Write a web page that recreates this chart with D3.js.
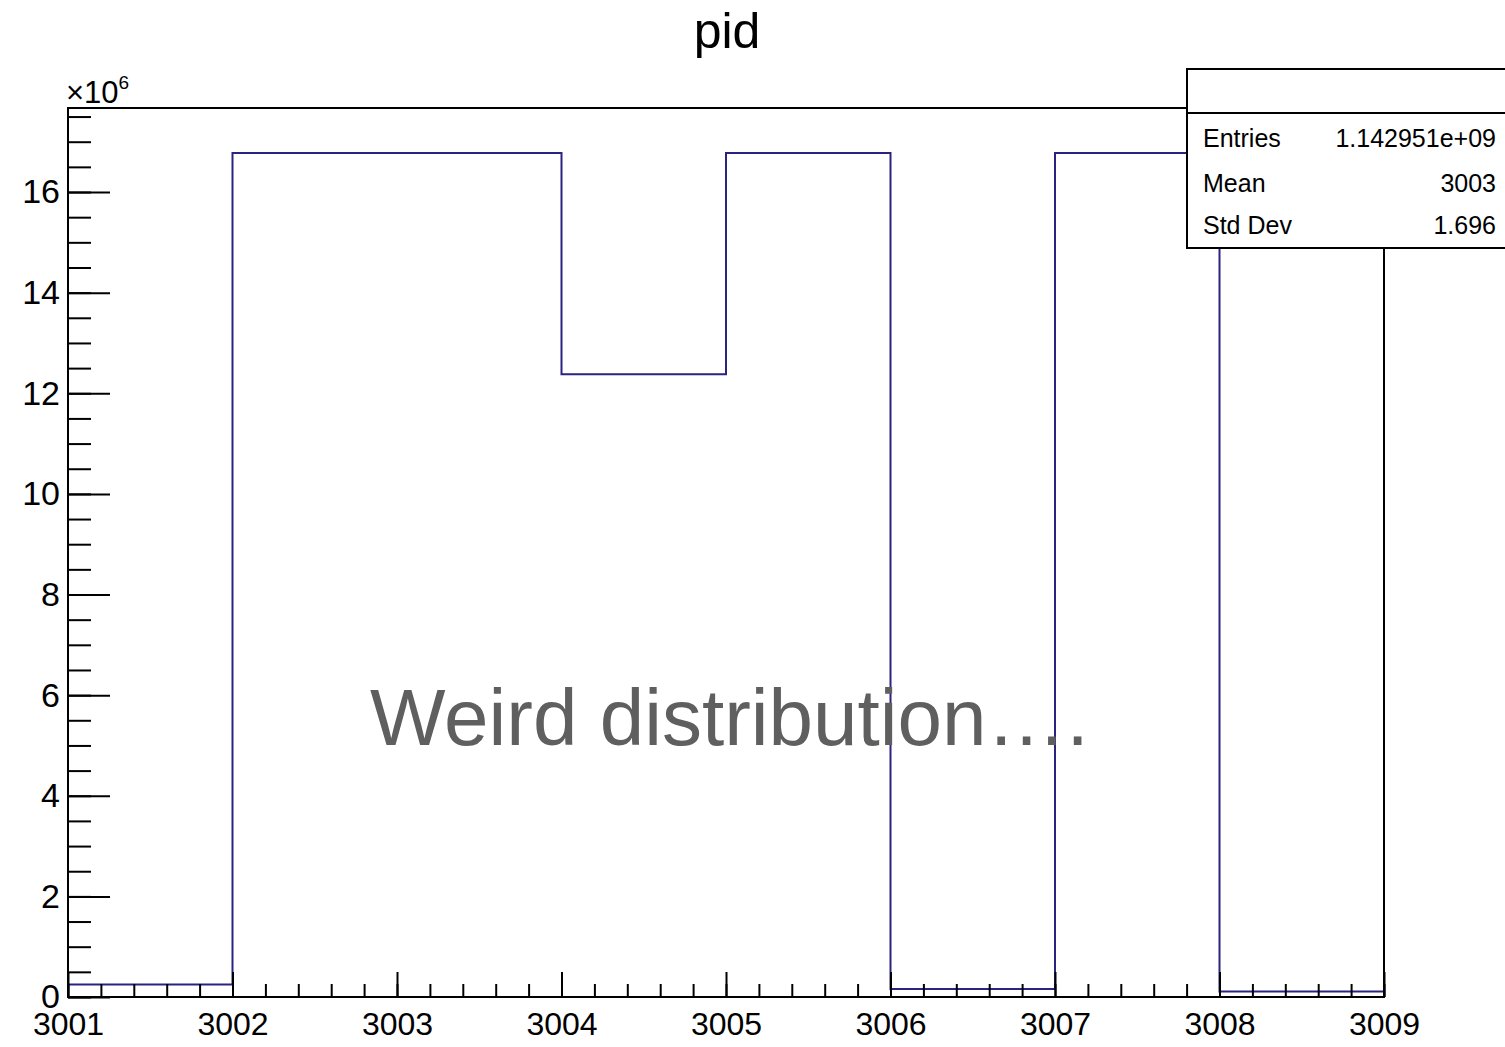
<!DOCTYPE html>
<html>
<head>
<meta charset="utf-8">
<script src="https://cdn.jsdelivr.net/npm/d3@7"></script>
<style>
  body { margin: 0; background: #fff; }
  svg { font-family: "Liberation Sans", Arial, Helvetica, sans-serif; }
</style>
</head>
<body>
<div id="chart"></div>
<script>
// histogram bins (lower edges, bin width 1) and contents
var binLow = [3001, 3002, 3003, 3004, 3005, 3006, 3007, 3008];
var binCounts = [250000, 16777216, 16777216, 12380000, 16777216, 160000, 16777216, 110000];
var xTicks = [3001, 3002, 3003, 3004, 3005, 3006, 3007, 3008, 3009];
var yTicks = [0, 2e6, 4e6, 6e6, 8e6, 10e6, 12e6, 14e6, 16e6];
var statLabels = ["Entries", "Mean", "Std Dev"];
var statValues = ["1.142951e+09", "3003", "1.696"];

var svgWidth = 1505;
var svgHeight = 1047;

var frame = { left: 68, right: 1384, top: 108, bottom: 997 };
var lineColor = "#2a2380";

var svg = d3.select("#chart")
    .append("svg")
    .attr("width", svgWidth)
    .attr("height", svgHeight);

var xscale = d3.scaleLinear()
    .domain([3001, 3009])
    .range([frame.left, frame.right]);

var yscale = d3.scaleLinear()
    .domain([0, 17.67e6])
    .range([frame.bottom, frame.top]);

// title
svg.append("text")
    .attr("x", 727)
    .attr("y", 48)
    .attr("text-anchor", "middle")
    .attr("font-size", 50)
    .attr("fill", "#000")
    .text("pid");

// histogram outline as a step line
var pts = [[3001, 0]];
binLow.forEach(function (b, i) {
    pts.push([b, binCounts[i]]);
    pts.push([b + 1, binCounts[i]]);
});
pts.push([3009, 0]);

svg.append("path")
    .datum(pts)
    .attr("fill", "none")
    .attr("stroke", lineColor)
    .attr("stroke-width", 2)
    .attr("d", d3.line().x(d => xscale(d[0])).y(d => yscale(d[1])));

// x axis minor ticks
var xMinor = d3.range(0, 41).map(d => 3001 + d * 0.2);
svg.append("g")
    .attr("transform", `translate(0, ${frame.bottom})`)
    .call(d3.axisBottom(xscale).tickValues(xMinor).tickSizeInner(-13).tickSizeOuter(0).tickFormat(""))
    .call(g => g.select(".domain").remove())
    .selectAll("line").attr("stroke-width", 2);

// x axis major ticks + labels
var xAxis = svg.append("g")
    .attr("transform", `translate(0, ${frame.bottom})`)
    .call(d3.axisBottom(xscale).tickValues(xTicks).tickSizeInner(-25).tickSizeOuter(0).tickPadding(15).tickFormat(d3.format("d")));
xAxis.select(".domain").remove();
xAxis.selectAll("line").attr("stroke-width", 2);
xAxis.selectAll("text").attr("font-size", 32).attr("font-family", null).attr("fill", "#000");

// y axis minor ticks
var yMinor = d3.range(0, 36).map(d => d * 0.5e6);
svg.append("g")
    .attr("transform", `translate(${frame.left}, 0)`)
    .call(d3.axisLeft(yscale).tickValues(yMinor).tickSizeInner(-23).tickSizeOuter(0).tickFormat(""))
    .call(g => g.select(".domain").remove())
    .selectAll("line").attr("stroke-width", 2);

// y axis major ticks + labels
var yAxis = svg.append("g")
    .attr("transform", `translate(${frame.left}, 0)`)
    .call(d3.axisLeft(yscale).tickValues(yTicks).tickSizeInner(-42).tickSizeOuter(0).tickPadding(8).tickFormat(d => d / 1e6));
yAxis.select(".domain").remove();
yAxis.selectAll("line").attr("stroke-width", 2);
yAxis.selectAll("text").attr("font-size", 34).attr("font-family", null).attr("fill", "#000");

// exponent label
var expo = svg.append("text")
    .attr("x", 66)
    .attr("y", 103)
    .attr("font-size", 31)
    .attr("fill", "#000");
expo.append("tspan").text("\u00d710");
expo.append("tspan").attr("font-size", 19).attr("dy", -14).text("6");

// frame
svg.append("rect")
    .attr("x", frame.left)
    .attr("y", frame.top)
    .attr("width", frame.right - frame.left)
    .attr("height", frame.bottom - frame.top)
    .attr("fill", "none")
    .attr("stroke", "#000")
    .attr("stroke-width", 2);

// stats box
svg.append("rect")
    .attr("x", 1187)
    .attr("y", 69)
    .attr("width", 340)
    .attr("height", 179)
    .attr("fill", "#fff")
    .attr("stroke", "#000")
    .attr("stroke-width", 2);

svg.append("line")
    .attr("x1", 1187).attr("x2", 1505)
    .attr("y1", 113).attr("y2", 113)
    .attr("stroke", "#000")
    .attr("stroke-width", 2);

var statY = [147, 192, 234];
svg.selectAll(".statLabel")
    .data(statLabels)
    .enter()
    .append("text")
    .attr("x", 1203)
    .attr("y", (d, i) => statY[i])
    .attr("font-size", 25)
    .attr("fill", "#000")
    .text(d => d);

svg.selectAll(".statValue")
    .data(statValues)
    .enter()
    .append("text")
    .attr("x", 1496)
    .attr("y", (d, i) => statY[i])
    .attr("text-anchor", "end")
    .attr("font-size", 25)
    .attr("fill", "#000")
    .text(d => d);

// annotation
svg.append("text")
    .attr("x", 370)
    .attr("y", 745)
    .attr("font-size", 80)
    .attr("fill", "#5f5f5f")
    .text("Weird distribution\u2026.");
</script>
</body>
</html>
